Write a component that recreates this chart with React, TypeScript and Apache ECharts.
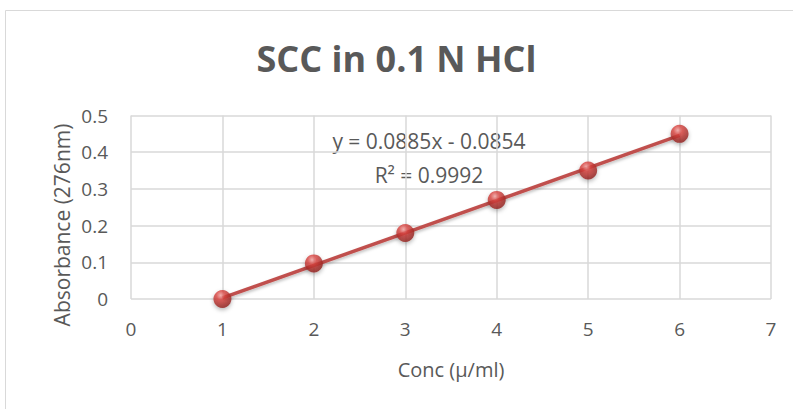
import React, { useEffect, useRef } from "react";
import * as echarts from "echarts";

const concentrations = [1, 2, 3, 4, 5, 6];
const absorbance = [0, 0.097, 0.18, 0.27, 0.35, 0.45];
const slope = 0.0885;
const intercept = -0.0854;
const equationText = "y = 0.0885x - 0.0854";
const r2Text = "R² = 0.9992";
const titleText = "SCC in 0.1 N HCl";
const xName = "Conc (μ/ml)";
const yName = "Absorbance (276nm)";

export default function App() {
  const ref = useRef<HTMLDivElement>(null);
  useEffect(() => {
    const chart = echarts.init(ref.current!, null, { renderer: "svg" });
    const x0 = concentrations[0];
    const x1 = concentrations[concentrations.length - 1];
    const trend = [
      [x0, slope * x0 + intercept],
      [x1, slope * x1 + intercept],
    ];
    const font = "Open Sans, sans-serif";
    const textColor = "#595959";
    chart.setOption({
      animation: false,
      backgroundColor: "#ffffff",
      title: {
        text: titleText,
        left: "center",
        top: 35,
        textStyle: { fontFamily: font, fontSize: 36, fontWeight: "bold", color: textColor },
      },
      graphic: [
        {
          type: "rect",
          shape: { x: 5.5, y: 10.5, width: 800, height: 420 },
          style: { fill: "none", stroke: "#d9d9d9", lineWidth: 1 },
          silent: true,
        },
        {
          type: "text",
          x: 429,
          y: 141,
          style: { text: equationText, fontFamily: font, fontSize: 21, fill: textColor, textAlign: "center", textVerticalAlign: "middle" },
        },
        {
          type: "text",
          x: 429,
          y: 175,
          style: { text: r2Text, fontFamily: font, fontSize: 21, fill: textColor, textAlign: "center", textVerticalAlign: "middle" },
        },
        {
          type: "text",
          x: 62,
          y: 225,
          rotation: Math.PI / 2,
          style: { text: yName, fontFamily: font, fontSize: 21, fill: textColor, textAlign: "center", textVerticalAlign: "middle" },
        },
      ],
      grid: { left: 131, right: 22, top: 115.5, bottom: 110, containLabel: false },
      xAxis: {
        type: "value",
        min: 0,
        max: 7,
        interval: 1,
        name: xName,
        nameLocation: "middle",
        nameGap: 60,
        nameTextStyle: { fontFamily: font, fontSize: 20, color: textColor },
        axisLine: { show: false },
        axisTick: { show: false },
        axisLabel: { margin: 20, fontFamily: font, fontSize: 19, color: textColor },
        splitLine: { show: true, lineStyle: { color: "#d9d9d9", width: 1.5 } },
      },
      yAxis: {
        type: "value",
        min: 0,
        max: 0.5,
        interval: 0.1,
        axisLine: { show: false },
        axisTick: { show: false },
        axisLabel: { margin: 23, fontFamily: font, fontSize: 19, color: textColor },
        splitLine: { show: true, lineStyle: { color: "#d9d9d9", width: 1.5 } },
      },
      series: [
        {
          type: "line",
          data: trend,
          symbol: "none",
          lineStyle: { color: "#c0504d", width: 3.5, shadowColor: "rgba(0,0,0,0.25)", shadowBlur: 3, shadowOffsetY: 2 },
          z: 2,
        },
        {
          type: "scatter",
          data: concentrations.map((c, i) => [c, absorbance[i]]),
          symbol: "circle",
          symbolSize: 18,
          itemStyle: {
            color: new echarts.graphic.RadialGradient(0.4, 0.3, 0.7, [
              { offset: 0, color: "#f4a5a3" },
              { offset: 0.35, color: "#d9433f" },
              { offset: 1, color: "#8e1f1c" },
            ]),
            shadowColor: "rgba(0,0,0,0.35)",
            shadowBlur: 4,
            shadowOffsetY: 2,
          },
          z: 3,
        },
      ],
    });
    return () => chart.dispose();
  }, []);
  return <div ref={ref} style={{ position: "fixed", left: 0, top: 0, width: 793, height: 409 }} />;
}
